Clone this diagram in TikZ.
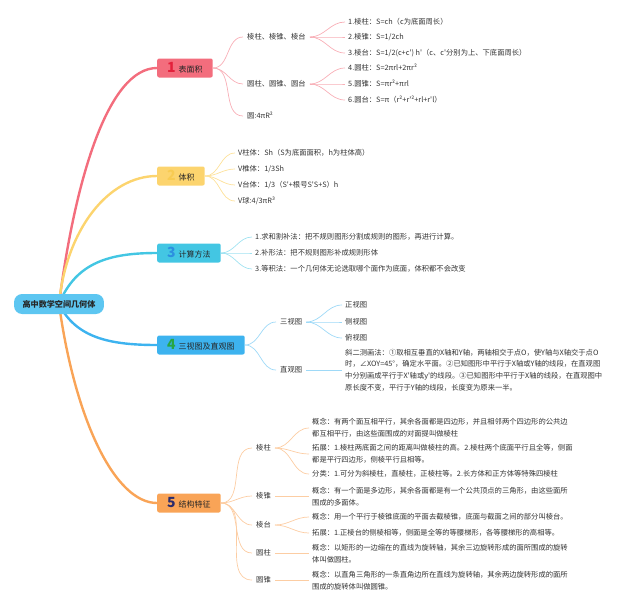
\documentclass[tikz,border=0pt]{standalone}
\usepackage{fontspec}
\setmainfont{Noto Sans CJK SC}[Ligatures=TeXOff]
\usetikzlibrary{backgrounds}
\definecolor{rootbl}{HTML}{5DC6F1}
\definecolor{redbr}{HTML}{F36D7D}
\definecolor{reddg}{HTML}{E3203B}
\definecolor{yellowbr}{HTML}{FCD46E}
\definecolor{yellowdg}{HTML}{F8CB52}
\definecolor{cyanbr}{HTML}{43C6E3}
\definecolor{cyandg}{HTML}{2C8FE0}
\definecolor{bluebr}{HTML}{3DB3EF}
\definecolor{bluedg}{HTML}{27A645}
\definecolor{orangebr}{HTML}{F9A457}
\definecolor{orangedg}{HTML}{2C2C6C}
\definecolor{inkgray}{HTML}{333333}
\newcommand{\leafsize}{\fontsize{7.3}{11.8}\selectfont}
\newcommand{\digit}[2]{{\fontsize{14}{14}\selectfont\bfseries\color{#1}#2}\hspace{3pt}}

\begin{document}
\begin{tikzpicture}[x=1pt,y=-1pt,
  rootbox/.style={fill=rootbl,rounded corners=8pt,minimum height=20pt,inner xsep=8.5pt,inner ysep=0pt,font=\fontsize{8.1}{10}\selectfont\bfseries,text=black!85},
  mainbox/.style={fill=#1,rounded corners=2pt,minimum height=19pt,inner xsep=10pt,inner ysep=0pt,anchor=west,font=\fontsize{8}{10}\selectfont,text=black!85},
  topic/.style={anchor=west,inner xsep=4pt,inner ysep=2pt,font=\leafsize,text=inkgray},
  leaf/.style={anchor=west,inner xsep=3pt,inner ysep=2pt,font=\leafsize,text=inkgray,align=left},
  trunk/.style={line width=2.4pt,draw=#1},
  twig/.style={line width=0.7pt,draw=#1}]
\useasboundingbox (0,0) rectangle (640,606);

% centre and main branches
\node[rootbox] (root) at (59,304) {高中数学空间几何体};
\node[mainbox=redbr] (area) at (157,68) {\digit{reddg}{1}表面积};
\node[mainbox=yellowbr] (vol) at (157,176) {\digit{yellowdg}{2}体积};
\node[mainbox=cyanbr] (calc) at (157,253) {\digit{cyandg}{3}计算方法};
\node[mainbox=bluebr] (view) at (157,345) {\digit{bluedg}{4}三视图及直观图};
\node[mainbox=orangebr] (struct) at (157,503) {\digit{orangedg}{5}结构特征};

\begin{scope}[on background layer]
\draw[trunk=redbr] (root.center) .. controls (75,180) and (108,68) .. (area.west);
\draw[trunk=yellowbr] (root.center) .. controls (66,230) and (108,176) .. (vol.west);
\draw[trunk=cyanbr] (root.center) .. controls (76,262) and (110,253) .. (calc.west);
\draw[trunk=bluebr] (root.center) .. controls (76,338) and (110,345) .. (view.west);
\draw[trunk=orangebr] (root.center) .. controls (75,420) and (115,503) .. (struct.west);
\end{scope}

% 1 surface area
\node[topic] (prism) at (243,37) {棱柱、棱锥、棱台};
\node[topic] (round) at (243,84) {圆柱、圆锥、圆台};
\node[topic] (ball) at (243,116) {圆:4πR²};
\foreach \t in {prism,round,ball}{\draw[twig=redbr!55] (area.east) to[out=0,in=180] (\t.west);}
\node[leaf] (s1) at (345,22) {1.棱柱：S=ch（c为底面周长）};
\node[leaf] (s2) at (345,37) {2.棱锥：S=1/2ch};
\node[leaf] (s3) at (345,53) {3.棱台：S=1/2(c+c') h'（c、c'分别为上、下底面周长）};
\node[leaf] (s4) at (345,68) {4.圆柱：S=2πrl+2πr²};
\node[leaf] (s5) at (345,84) {5.圆锥：S=πr²+πrl};
\node[leaf] (s6) at (345,100) {6.圆台：S=π（r²+r'²+rl+r'l）};
\foreach \t in {s1,s2,s3}{\draw[twig=redbr!55] (prism.east) to[out=0,in=180] (\t.west);}
\foreach \t in {s4,s5,s6}{\draw[twig=redbr!55] (round.east) to[out=0,in=180] (\t.west);}

% 2 volume
\node[leaf] (v1) at (235,153) {V柱体：Sh（S为底面面积，h为柱体高）};
\node[leaf] (v2) at (235,169) {V椎体：1/3Sh};
\node[leaf] (v3) at (235,185) {V台体：1/3（S'+根号S'S+S）h};
\node[leaf] (v4) at (235,201) {V球:4/3πR³};
\foreach \t in {v1,v2,v3,v4}{\draw[twig=yellowbr!70] (vol.east) to[out=0,in=180] (\t.west);}

% 3 methods
\node[leaf] (m1) at (252,237) {1.求和割补法：把不规则图形分割成规则的图形，再进行计算。};
\node[leaf] (m2) at (252,253) {2.补形法：把不规则图形补成规则形体};
\node[leaf] (m3) at (252,269) {3.等积法：一个几何体无论选取哪个面作为底面，体积都不会改变};
\foreach \t in {m1,m2,m3}{\draw[twig=cyanbr!50] (calc.east) to[out=0,in=180] (\t.west);}

% 4 views
\node[topic] (three) at (276,322) {三视图};
\node[topic] (direct) at (276,370) {直观图};
\foreach \t in {three,direct}{\draw[twig=bluebr!50] (view.east) to[out=0,in=180] (\t.west);}
\node[leaf] (front) at (342,305) {正视图};
\node[leaf] (side) at (342,322) {侧视图};
\node[leaf] (top) at (342,338) {俯视图};
\foreach \t in {front,side,top}{\draw[twig=bluebr!50] (three.east) to[out=0,in=180] (\t.west);}
\node[leaf] (oblique) at (342,370) {斜二测画法：①取相互垂直的X轴和Y轴，两轴相交于点O，使Y轴与X轴交于点O\\
时，∠XOY=45°，确定水平面。②已知图形中平行于X轴或Y轴的线段，在直观图\\
中分别画成平行于X'轴或y'的线段。③已知图形中平行于X轴的线段，在直观图中\\
原长度不变，平行于Y轴的线段，长度变为原来一半。};
\draw[twig=bluebr!50] (direct) -- (oblique);

% 5 structure
\node[topic] (lz) at (252,448) {棱柱};
\node[topic] (lzh) at (252,496) {棱锥};
\node[topic] (lt) at (252,525) {棱台};
\node[topic] (yz) at (252,553) {圆柱};
\node[topic] (yzh) at (252,580) {圆锥};
\foreach \t in {lz,lzh,lt,yz,yzh}{\draw[twig=orangebr!55] (struct.east) to[out=0,in=180] (\t.west);}
\node[leaf] (lz1) at (309,428) {概念：有两个面互相平行，其余各面都是四边形，并且相邻两个四边形的公共边\\都互相平行，由这些面围成的对面提叫做棱柱};
\node[leaf] (lz2) at (309,454) {拓展：1.棱柱两底面之间的距离叫做棱柱的高。2.棱柱两个底面平行且全等，侧面\\都是平行四边形，侧棱平行且相等。};
\node[leaf] (lz3) at (309,474) {分类：1.可分为斜棱柱，直棱柱，正棱柱等。2.长方体和正方体等特殊四棱柱};
\foreach \t in {lz1,lz2,lz3}{\draw[twig=orangebr!55] (lz.east) to[out=0,in=180] (\t.west);}
\node[leaf] (lzh1) at (309,497) {概念：有一个面是多边形，其余各面都是有一个公共顶点的三角形，由这些面所\\围成的多面体。};
\draw[twig=orangebr!55] (lzh) -- (lzh1.west |- lzh);
\node[leaf] (lt1) at (309,517) {概念：用一个平行于棱锥底面的平面去截棱锥，底面与截面之间的部分叫棱台。};
\node[leaf] (lt2) at (309,533) {拓展：1.正棱台的侧棱相等，侧面是全等的等腰梯形，各等腰梯形的高相等。};
\foreach \t in {lt1,lt2}{\draw[twig=orangebr!55] (lt.east) to[out=0,in=180] (\t.west);}
\node[leaf] (yz1) at (309,554) {概念：以矩形的一边缩在的直线为旋转轴，其余三边旋转形成的面所围成的旋转\\体叫做圆柱。};
\draw[twig=orangebr!55] (yz) -- (yz1.west |- yz);
\node[leaf] (yzh1) at (309,581) {概念：以直角三角形的一条直角边所在直线为旋转轴，其余两边旋转形成的面所\\围成的旋转体叫做圆锥。};
\draw[twig=orangebr!55] (yzh) -- (yzh1.west |- yzh);
\end{tikzpicture}
\end{document}
